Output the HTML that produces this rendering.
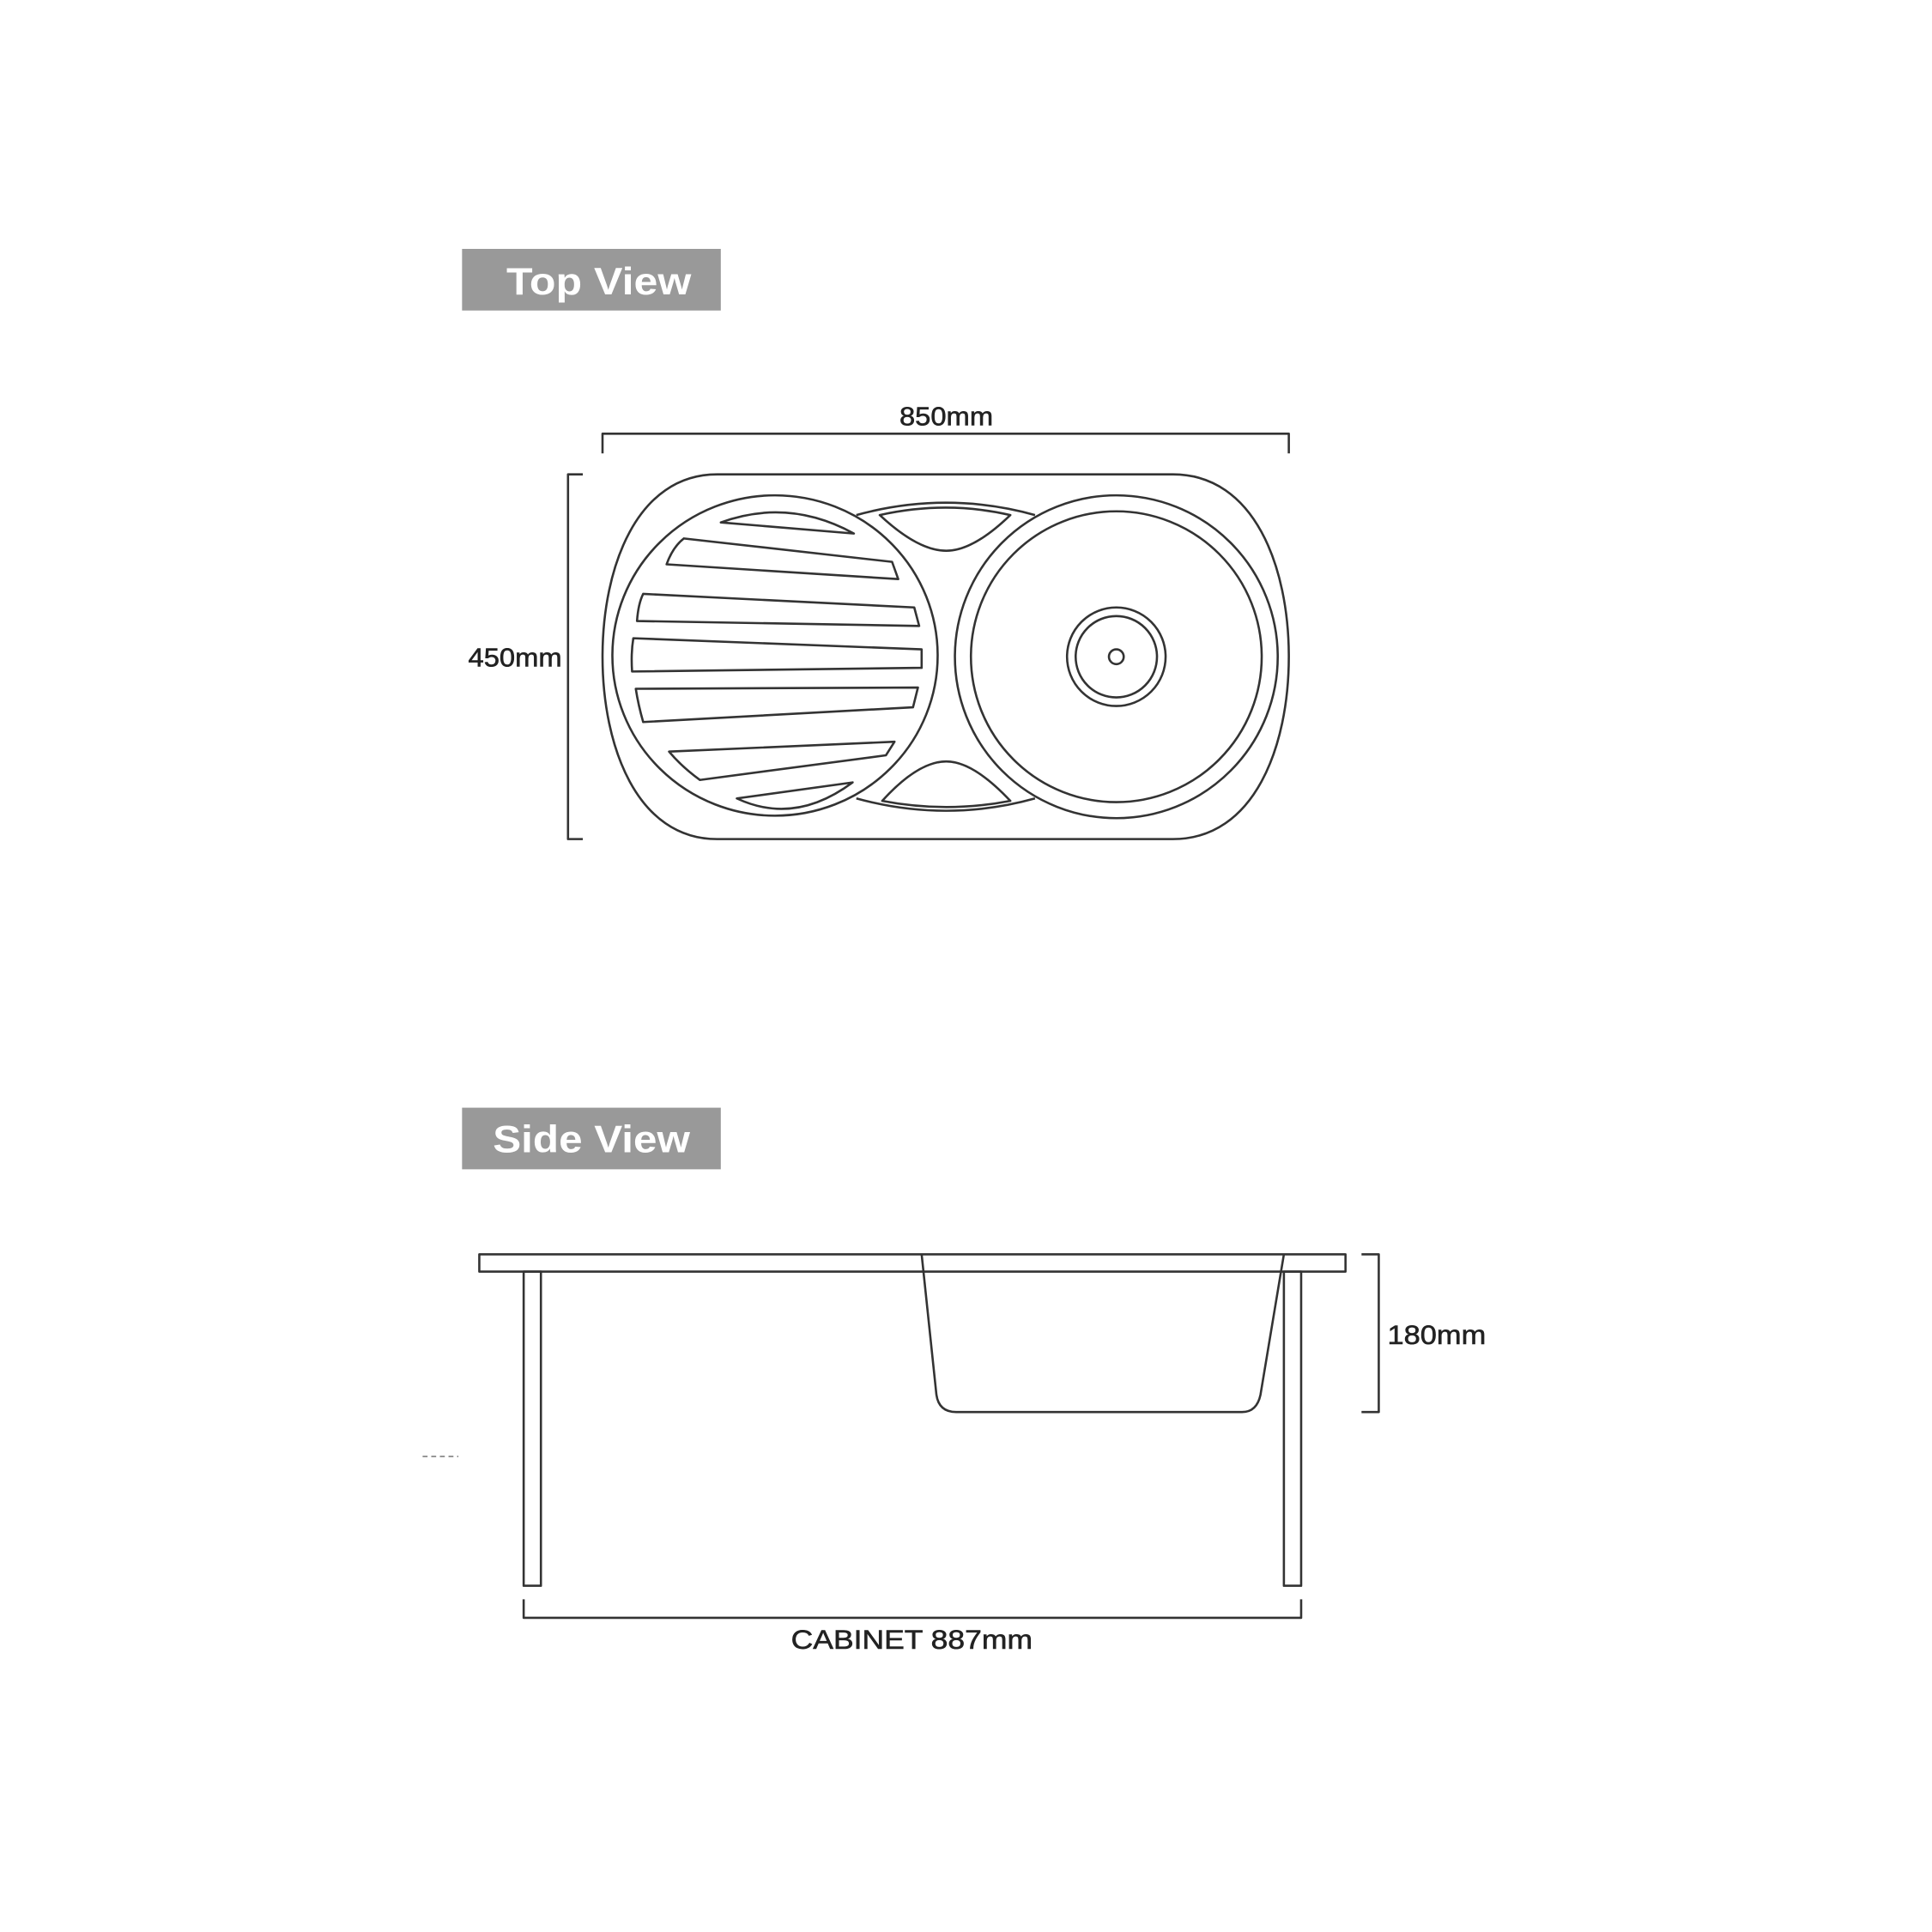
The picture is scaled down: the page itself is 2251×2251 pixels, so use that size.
<!DOCTYPE html>
<html><head><meta charset="utf-8"><style>
html,body{margin:0;padding:0;background:#fff;}
svg{display:block;}
text{font-family:"Liberation Sans",sans-serif;fill:#222;}
.l{fill:none;stroke:#333;stroke-width:1.8;stroke-linejoin:round;}
.t{fill:#fff;font-weight:bold;font-size:31px;}
</style></head><body>
<svg width="2251" height="2251" viewBox="0 0 1568 1568" xmlns="http://www.w3.org/2000/svg">
<rect x="375" y="202" width="210" height="50" fill="#999"/>
<text class="t" x="486" y="239" text-anchor="middle" textLength="150" lengthAdjust="spacingAndGlyphs">Top View</text>
<text x="768" y="345" font-size="21" text-anchor="middle" textLength="76" lengthAdjust="spacingAndGlyphs" stroke="#222" stroke-width="0.4">850mm</text>
<path class="l" d="M489,368 V352 H1046 V368"/>
<text x="418" y="541" font-size="21" text-anchor="middle" textLength="76" lengthAdjust="spacingAndGlyphs" stroke="#222" stroke-width="0.4">450mm</text>
<path class="l" d="M473,385 H461 V681 H473"/>
<path class="l" d="M582,385 L952,385 C1018,385 1046,460 1046,533 C1046,606 1018,681 952,681 L582,681 C517,681 489,606 489,533 C489,460 517,385 582,385 Z"/>
<ellipse class="l" cx="629" cy="532" rx="132" ry="130"/>
<circle class="l" cx="906" cy="533" r="131"/>
<circle class="l" cx="906" cy="533" r="118"/>
<circle class="l" cx="906" cy="533" r="40"/>
<circle class="l" cx="906" cy="533" r="33"/>
<circle class="l" cx="906" cy="533" r="6"/>
<path class="l" d="M695,418 Q768,398 840,418"/>
<path class="l" d="M714,418 Q768,406 820,418 Q790,447 768,447 Q745,447 714,418 Z"/>
<path class="l" d="M695,648 Q768,668 840,648"/>
<path class="l" d="M716,650 Q768,660 820,650 Q790,618 768,618 Q745,618 716,650 Z"/>
<path class="l" d="M585,424 Q640,404 693,433 Z"/>
<path class="l" d="M555,437 L724,456 L729,470 L541,458 Q546,444 555,437 Z"/>
<path class="l" d="M522,482 L742,493 L746,508 L517,504 Q518,490 522,482 Z"/>
<path class="l" d="M514,518 L748,527 L748,542 L513,545 Q512,530 514,518 Z"/>
<path class="l" d="M516,559 L745,558 L741,574 L522,586 Q518,572 516,559 Z"/>
<path class="l" d="M543,610 L726,602 L719,613 L568,633 Q553,622 543,610 Z"/>
<path class="l" d="M598,648 L692,635 Q645,670 598,648 Z"/>

<rect x="375" y="899" width="210" height="50" fill="#999"/>
<text class="t" x="480" y="935" text-anchor="middle" textLength="160" lengthAdjust="spacingAndGlyphs">Side View</text>
<rect class="l" x="389" y="1018" width="703" height="14"/>
<rect class="l" x="425" y="1032" width="14" height="255" fill="#fff"/>
<rect class="l" x="1042" y="1032" width="14" height="255" fill="#fff"/>
<path class="l" d="M748,1018 L760,1132 Q762,1146 776,1146 L1008,1146 Q1020,1146 1023,1132 L1042,1018" fill="#fff"/>
<path class="l" d="M1105,1018 H1119 V1146 H1105"/>
<text x="1166" y="1091" font-size="22" text-anchor="middle" textLength="80" lengthAdjust="spacingAndGlyphs" stroke="#222" stroke-width="0.4">180mm</text>
<path class="l" d="M425,1298 V1313 H1056 V1298"/>
<text x="740" y="1338" font-size="22" text-anchor="middle" textLength="196" lengthAdjust="spacingAndGlyphs" stroke="#222" stroke-width="0.4">CABINET 887mm</text>
<path d="M343,1182 H372" stroke="#888" stroke-width="1.2" stroke-dasharray="4,3"/>
</svg>
</body></html>
